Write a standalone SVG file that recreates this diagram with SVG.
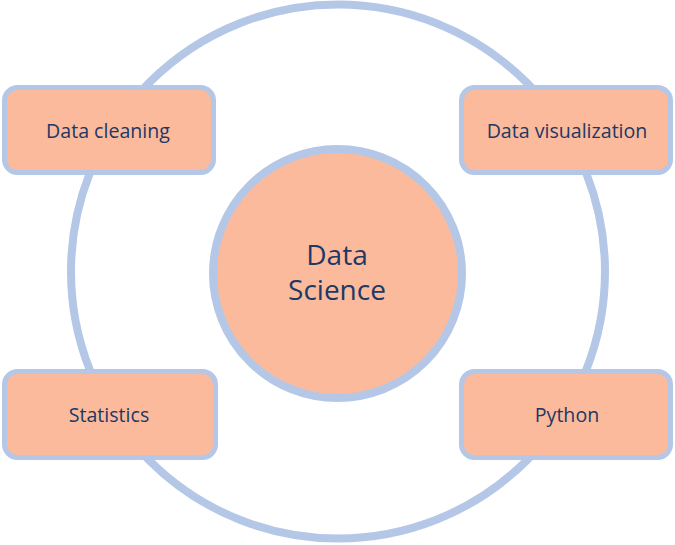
<svg xmlns="http://www.w3.org/2000/svg" width="675" height="545" viewBox="0 0 675 545">
  <style>
    .ring { fill: none; stroke: #b4c7e7; stroke-width: 8; }
    .node { fill: #fcba9c; stroke: #b4c7e7; stroke-width: 5; }
    .core { fill: #fcba9c; stroke: #b4c7e7; stroke-width: 8; }
    .lbl { font-family: "Open Sans", "Noto Sans", sans-serif; fill: #203864; text-anchor: middle; }
    .small { font-size: 19.6px; }
    .big { font-size: 28px; }
  </style>
  <g id="connectors">
    <circle class="ring" cx="338" cy="271.5" r="267"/>
  </g>
  <g id="data-science">
    <circle class="core" cx="337.5" cy="273.5" r="124.5"/>
    <text class="lbl big" x="337" y="265">Data</text>
    <text class="lbl big" x="337" y="300">Science</text>
  </g>
  <g id="data-cleaning">
    <rect class="node" x="4.5" y="87.5" width="209" height="85" rx="13"/>
    <text class="lbl small" x="108" y="138">Data cleaning</text>
  </g>
  <g id="data-visualization">
    <rect class="node" x="461.5" y="87.5" width="209" height="85" rx="13"/>
    <text class="lbl small" x="567" y="138">Data visualization</text>
  </g>
  <g id="statistics">
    <rect class="node" x="4.5" y="371.5" width="211" height="86" rx="13"/>
    <text class="lbl small" x="109" y="422">Statistics</text>
  </g>
  <g id="python">
    <rect class="node" x="461.5" y="371.5" width="209" height="86" rx="13"/>
    <text class="lbl small" x="567" y="422">Python</text>
  </g>
</svg>
